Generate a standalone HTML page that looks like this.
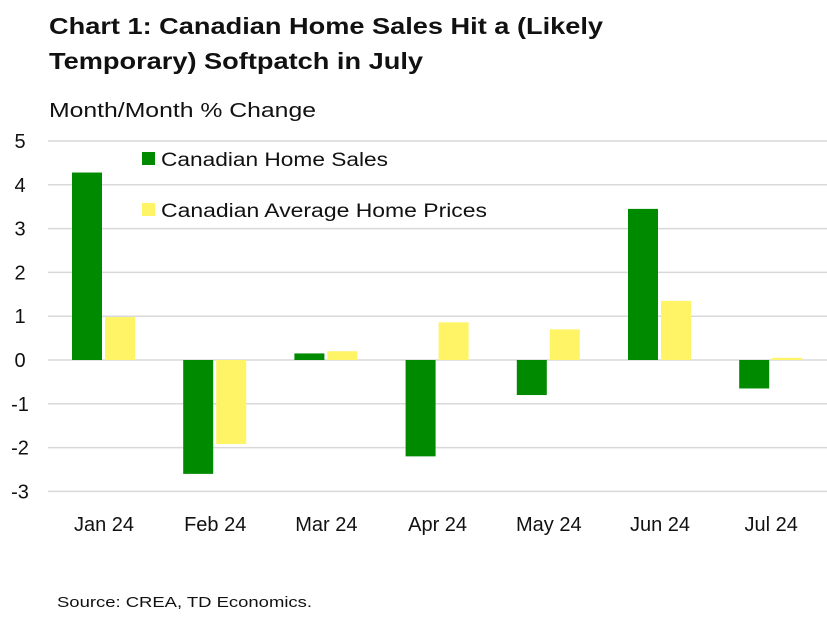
<!DOCTYPE html>
<html><head><meta charset="utf-8"><style>
body{margin:0;background:#fff;font-family:"Liberation Sans",sans-serif;}
svg text{font-family:"Liberation Sans",sans-serif;}
</style></head><body>
<svg width="827" height="617" xmlns="http://www.w3.org/2000/svg">
<text x="49" y="34" font-size="23" font-weight="bold" fill="#111" textLength="554" lengthAdjust="spacingAndGlyphs">Chart 1: Canadian Home Sales Hit a (Likely</text>
<text x="49" y="69" font-size="23" font-weight="bold" fill="#111" textLength="374" lengthAdjust="spacingAndGlyphs">Temporary) Softpatch in July</text>
<text x="49" y="117" font-size="20" fill="#111" textLength="267" lengthAdjust="spacingAndGlyphs">Month/Month % Change</text>
<g id="grid"></g><g id="bars"></g><g id="labels"></g>
<rect x="142" y="152" width="13" height="13" fill="#008a00"/>
<text x="161" y="166" font-size="19" fill="#111" textLength="227" lengthAdjust="spacingAndGlyphs">Canadian Home Sales</text>
<rect x="142" y="203" width="13" height="13" fill="#fff466"/>
<text x="161" y="217" font-size="19" fill="#111" textLength="326" lengthAdjust="spacingAndGlyphs">Canadian Average Home Prices</text>
<text x="57" y="607" font-size="15" fill="#111" textLength="255" lengthAdjust="spacingAndGlyphs">Source: CREA, TD Economics.</text>
</svg>
<script>
const categories=["Jan 24","Feb 24","Mar 24","Apr 24","May 24","Jun 24","Jul 24"];
const sales=[4.28,-2.6,0.15,-2.2,-0.8,3.45,-0.65];
const prices=[0.98,-1.92,0.2,0.86,0.7,1.35,0.05];
const yTicks=[5,4,3,2,1,0,-1,-2,-3];
const NS="http://www.w3.org/2000/svg";
const y=v=>360-v*43.8;
const xc=i=>104+i*111.2;
function mk(t,a,p){const e=document.createElementNS(NS,t);for(const k in a)e.setAttribute(k,a[k]);document.getElementById(p).appendChild(e);return e;}
yTicks.forEach(t=>{
  const l=mk('line',{x1:48,x2:827,y1:y(t),y2:y(t),stroke:'#d9d9d9','stroke-width':1.5},'grid');
  
  
  const tx=mk('text',{x:20,y:y(t)+7,'font-size':20,fill:'#111','text-anchor':'middle'},'labels');
  tx.textContent=t<0?'-'+Math.abs(t):t;
  
  
});
categories.forEach((c,i)=>{
  const s=sales[i],p=prices[i];
  const b1=mk('rect',{x:xc(i)-32,y:Math.min(y(s),y(0)),width:30,height:Math.abs(y(s)-y(0)),fill:'#008a00'},'bars');
  
  
  const b2=mk('rect',{x:xc(i)+1,y:Math.min(y(p),y(0)),width:30,height:Math.abs(y(p)-y(0)),fill:'#fff466'},'bars');
  
  
  const tx=mk('text',{x:xc(i),y:531,'font-size':20,fill:'#111','text-anchor':'middle'},'labels');
  tx.textContent=c;
  
  
});
</script>
</body></html>
